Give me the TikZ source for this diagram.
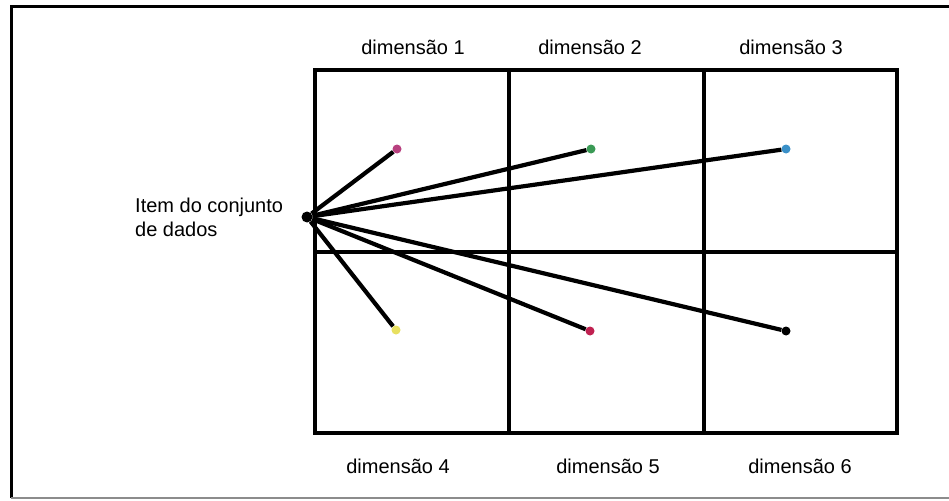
\documentclass[tikz,border=0pt]{standalone}
\usepackage{fontspec}
\setmainfont{Liberation Sans}
\definecolor{dmag}{HTML}{B8407F}
\definecolor{dgreen}{HTML}{3A9A55}
\definecolor{dblue}{HTML}{3A90C8}
\definecolor{dyellow}{HTML}{E8E060}
\definecolor{dred}{HTML}{C02050}
\begin{document}
\begin{tikzpicture}[x=1pt,y=-1pt,
  gridline/.style={line width=3.1pt, black},
  ray/.style={line width=4.2pt, black},
  dot/.style={circle, inner sep=0pt, minimum size=9pt, fill=#1},
  lbl/.style={font=\fontsize{20}{24}\selectfont, inner sep=0pt}]
\useasboundingbox (0,0) rectangle (949,500);
\fill[white] (0,0) rectangle (949,500);
% outer frame (right side cut off)
\draw[line width=3pt] (949,7) -- (11,7) -- (11,498);
\draw[line width=1.4pt, black!45] (11,498) -- (949,498);
% grid
\draw[gridline] (315,70) rectangle (897,433);
\draw[gridline] (509,70) -- (509,433);
\draw[gridline] (704,70) -- (704,433);
\draw[gridline] (315,252) -- (897,252);
% labels
\node[lbl] (l1) at (413,47) {dimensão 1};
\node[lbl] (l2) at (590,47) {dimensão 2};
\node[lbl] (l3) at (791,47) {dimensão 3};
\node[lbl] (l4) at (398,466) {dimensão 4};
\node[lbl] (l5) at (608,466) {dimensão 5};
\node[lbl] (l6) at (800,466) {dimensão 6};
\node[lbl, anchor=west, align=left] (item) at (135,217) {Item do conjunto\\de dados};
% points
\node[dot=black, minimum size=11pt] (c) at (307,217) {};
\node[dot=dmag] (p1) at (397,149) {};
\node[dot=dgreen] (p2) at (591,149) {};
\node[dot=dblue] (p3) at (786,149) {};
\node[dot=dyellow] (p4) at (396,330) {};
\node[dot=dred] (p5) at (590,331) {};
\node[dot=black] (p6) at (786,331) {};
\foreach \p in {p1,p2,p3,p4,p5,p6} \draw[ray] (c) -- (\p);
\end{tikzpicture}
\end{document}
